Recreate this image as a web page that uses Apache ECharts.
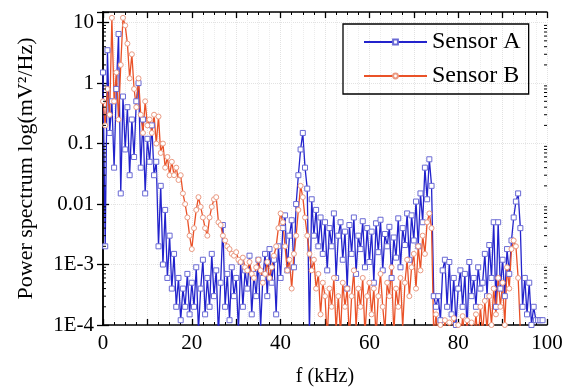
<!DOCTYPE html>
<html>
<head>
<meta charset="utf-8">
<script src="https://cdn.jsdelivr.net/npm/echarts@6/dist/echarts.min.js"></script>
<style>
  html, body { margin: 0; padding: 0; background: #fff; }
  #main { width: 578px; height: 392px; }
</style>
</head>
<body>
<div id="main"></div>
<script>
// frequency bins are 0.5 kHz apart
var binWidth = 0.5;

// Sensor A, 0 .. 99 kHz
var sensorA = [
  1.5, 0.002, 3.5, 0.15, 0.5, 0.04, 0.8, 6.5, 0.015, 0.6,
  0.08, 0.4, 0.03, 0.25, 0.06, 0.5, 1.0, 0.04, 0.25, 0.015,
  0.12, 0.05, 0.2, 0.03, 0.05, 0.002, 0.02, 0.001, 0.008, 0.0006,
  0.003, 0.0004, 0.0015, 0.0002, 0.0006, 0.00012, 0.0004, 0.0002, 0.0007, 0.00015,
  0.0005, 0.0002, 0.0009, 0.00008, 0.0004, 0.0012, 0.00015, 0.0006, 0.0002, 0.0015,
  0.0003, 0.0008, 0.00007, 0.0005, 0.0045, 0.0002, 0.0007, 0.00012, 0.0009, 0.0003,
  0.0006, 0.00008, 0.0011, 0.0002, 0.0008, 0.0004, 0.0014, 0.00015, 0.0007, 0.0003,
  0.0012, 0.00009, 0.0006, 0.0015, 0.0003, 0.0018, 0.0005, 0.0012, 0.00015, 0.002,
  0.0006, 0.004, 0.0065, 0.0008, 0.003, 0.0054, 0.0009, 0.01, 0.03, 0.08,
  0.15, 0.04, 0.018, 0.00007, 0.012, 0.003, 0.008, 0.002, 0.006, 0.0015,
  0.005, 0.0008, 0.004, 0.002, 0.007, 0.0006, 0.003, 0.005, 0.0012, 0.0035,
  0.0004, 0.0045, 0.0015, 0.006, 0.0007, 0.003, 0.0018, 0.0052, 0.0009, 0.004,
  0.0011, 0.0035, 0.0005, 0.0048, 0.0016, 0.0055, 0.0008, 0.0032, 0.002, 0.0042,
  0.0006, 0.0028, 0.0013, 0.0058, 0.0009, 0.004, 0.0021, 0.007, 0.0012, 0.0065,
  0.0025, 0.011, 0.002, 0.015, 0.005, 0.04, 0.012, 0.055, 0.02, 0.0003,
  0.0002, 0.0003, 0.00012, 0.0008, 0.0012, 0.0002, 0.0011, 0.00015, 0.0006, 0.0001,
  0.0004, 0.0008, 0.0002, 0.0007, 0.00008, 0.0011, 0.0003, 0.0006, 0.0002, 0.0009,
  0.0004, 0.0005, 0.0015, 0.0003, 0.0021, 0.0006, 0.005, 0.0002, 0.005, 0.0004,
  0.0012, 0.0003, 0.0018, 0.0007, 0.0025, 0.006, 0.011, 0.015, 0.004, 0.0002,
  0.0006, 0.00015, 0.0005, 0.0001, 0.0002, 0.00012, 0.00012, 0.00012, 0.00012
];

// Sensor B, 0 .. 94 kHz
var sensorB = [
  0.5, 0.2, 0.8, 0.3, 12, 0.5, 1.5, 0.25, 2, 12,
  9, 4.5, 1.2, 3, 0.8, 0.4, 1.2, 0.3, 0.15, 0.5,
  0.2, 0.25, 0.15, 0.3, 0.1, 0.28, 0.07, 0.1, 0.04, 0.06,
  0.03, 0.05, 0.03, 0.04, 0.025, 0.03, 0.015, 0.01, 0.006, 0.003,
  0.0018, 0.004, 0.008, 0.013, 0.009, 0.006, 0.004, 0.003, 0.006, 0.009,
  0.012, 0.013, 0.005, 0.0045, 0.003, 0.0025, 0.002, 0.0018, 0.0015, 0.0014,
  0.0016, 0.0012, 0.0011, 0.0013, 0.0009, 0.0008, 0.0011, 0.0007, 0.0006, 0.0009,
  0.0012, 0.0008, 0.0005, 0.0007, 0.0011, 0.0006, 0.0009, 0.0014, 0.002, 0.004,
  0.007, 0.005, 0.002, 0.0008, 0.0012, 0.0004, 0.0015, 0.003, 0.008, 0.02,
  0.013, 0.006, 0.003, 0.0015, 0.0008, 0.0012, 0.0004, 0.0007, 0.00015, 0.0005,
  0.0003, 0.00006, 0.0004, 0.0002, 0.0006, 0.00008, 0.0003, 0.00007, 0.0005, 0.0002,
  0.0004, 0.00006, 0.0003, 0.0008, 0.00009, 0.0004, 0.0002, 0.0006, 0.00007, 0.0003,
  0.0005, 0.00015, 0.0004, 0.00006, 0.0003, 0.0007, 0.0002, 0.00008, 0.0005, 0.0003,
  0.0009, 0.00007, 0.0004, 0.0002, 0.0006, 0.00009, 0.0005, 0.0012, 0.0003, 0.0009,
  0.0015, 0.0004, 0.002, 0.0008, 0.003, 0.0015, 0.005, 0.007, 0.004, 0.00006,
  0.00015, 0.00006, 0.0001, 0.00005, 0.00012, 0.00006, 0.00011, 0.00005, 0.00013, 0.00007,
  0.0001, 0.00005, 0.00014, 0.00006, 0.00012, 0.00005, 0.00011, 0.00006, 0.00015, 0.00005,
  0.0002, 0.00007, 0.00025, 0.00008, 0.0003, 0.0001, 0.0004, 0.00015, 0.0006, 0.0002,
  0.0005, 0.0001, 0.0009, 0.0004, 0.0018, 0.0025, 0.002, 0.0006, 0.00008
];

// y tick labels (decades)
var yTickLabels = { '10': '10', '1': '1', '0.1': '0.1', '0.01': '0.01', '0.001': '1E-3', '0.0001': '1E-4' };
// log minor tick multipliers inside each decade
var minorMultipliers = [2, 3, 4, 5, 6, 7, 8, 9];
var decades = [0.0001, 0.001, 0.01, 0.1, 1, 10];

function toPairs(vals) {
  return vals.map(function (v, i) { return [i * binWidth, v]; });
}

var minorTickValues = [];
decades.forEach(function (d) {
  minorMultipliers.forEach(function (m) {
    if (d * m <= 15) minorTickValues.push([0, d * m]);
  });
});

var font = 'Liberation Serif';
var myChart = echarts.init(document.getElementById('main'));

var xBase = {
  type: 'value',
  min: 0,
  max: 100,
  interval: 10,
  axisLine: { lineStyle: { color: '#000', width: 1.5 } },
  axisTick: { inside: true, length: 6, lineStyle: { color: '#000', width: 1.3 } },
  minorTick: { show: true, splitNumber: 4, length: 3, lineStyle: { color: '#000', width: 1 } }
};

var yBase = {
  type: 'log',
  logBase: 10,
  min: 0.0001,
  max: 15,
  axisLine: { show: true, lineStyle: { color: '#000', width: 1.5 } },
  axisTick: { inside: true, length: 6, lineStyle: { color: '#000', width: 1.3 } },
  minorTick: { show: false }
};

var option = {
  animation: false,
  backgroundColor: '#fff',
  grid: { left: 103, right: 31, top: 12, bottom: 65 },
  legend: {
    orient: 'vertical',
    left: 343,
    top: 24,
    padding: [6, 8, 6, 20],
    borderColor: '#000',
    borderWidth: 1.3,
    borderRadius: 0,
    itemWidth: 63,
    itemHeight: 6,
    itemGap: 10,
    textStyle: { fontFamily: font, fontSize: 24, color: '#000' },
    data: ['Sensor A', 'Sensor B']
  },
  xAxis: [
    Object.assign({}, xBase, {
      position: 'bottom',
      name: 'f (kHz)',
      nameLocation: 'middle',
      nameGap: 42,
      nameTextStyle: { fontFamily: font, fontSize: 20, color: '#000' },
      axisLabel: {
        fontFamily: font, fontSize: 21, color: '#000', margin: 8,
        formatter: function (v) { return v % 20 === 0 ? String(v) : ''; }
      },
      splitLine: { show: true, lineStyle: { color: '#e2e2e2', type: 'dotted', width: 1 } },
      minorSplitLine: { show: true, lineStyle: { color: '#ececec', type: 'dotted', width: 1 } }
    }),
    Object.assign({}, xBase, {
      position: 'top',
      axisLabel: { show: false },
      splitLine: { show: false }
    })
  ],
  yAxis: [
    Object.assign({}, yBase, {
      position: 'left',
      name: 'Power spectrum log(mV\u00b2/Hz)',
      nameLocation: 'middle',
      nameGap: 66,
      nameTextStyle: { fontFamily: font, fontSize: 22, color: '#000' },
      axisLabel: {
        fontFamily: font, fontSize: 21, color: '#000', margin: 9,
        formatter: function (v) {
          var key = String(Number(v.toPrecision(6)));
          return yTickLabels[key] || '';
        }
      },
      splitLine: { show: true, lineStyle: { color: '#e2e2e2', type: 'dotted', width: 1 } }
    }),
    Object.assign({}, yBase, {
      position: 'right',
      axisLabel: { show: false },
      splitLine: { show: false }
    })
  ],
  series: [
    {
      name: 'Sensor A',
      type: 'line',
      symbol: 'rect',
      symbolSize: 5,
      clip: true,
      lineStyle: { color: '#2323cc', width: 1.3 },
      itemStyle: { color: '#fff', borderColor: '#6a6ad4', borderWidth: 1 },
      data: toPairs(sensorA)
    },
    {
      name: 'Sensor B',
      type: 'line',
      symbol: 'circle',
      symbolSize: 5,
      clip: true,
      lineStyle: { color: '#ea5228', width: 1.3 },
      itemStyle: { color: '#fff', borderColor: '#ea9a82', borderWidth: 1 },
      data: toPairs(sensorB)
    },
    {
      // log minor ticks on the left and right frame
      type: 'custom',
      silent: true,
      z: 5,
      data: minorTickValues,
      renderItem: function (params, api) {
        var pL = api.coord([0, api.value(1)]);
        var pR = api.coord([100, api.value(1)]);
        var st = { stroke: '#000', lineWidth: 1 };
        return {
          type: 'group',
          children: [
            { type: 'line', shape: { x1: pL[0], y1: pL[1], x2: pL[0] + 3, y2: pL[1] }, style: st },
            { type: 'line', shape: { x1: pR[0], y1: pR[1], x2: pR[0] - 3, y2: pR[1] }, style: st }
          ]
        };
      }
    }
  ]
};

myChart.setOption(option);
</script>
</body>
</html>
